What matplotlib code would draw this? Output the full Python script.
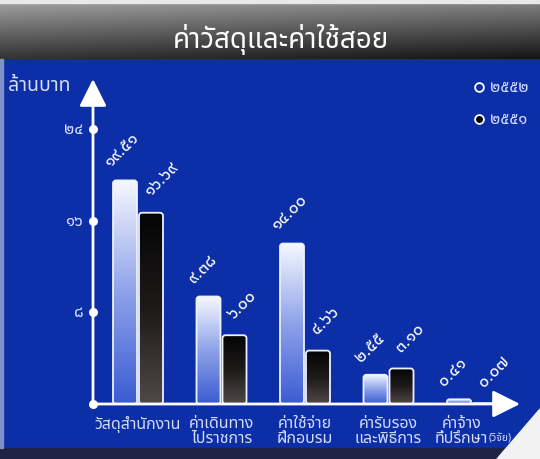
import matplotlib
matplotlib.use("Agg")
import matplotlib.pyplot as plt
from matplotlib.colors import LinearSegmentedColormap
from matplotlib.patches import FancyBboxPatch, Polygon, FancyArrowPatch
import numpy as np

TITLE = "ค่าวัสดุและค่าใช้สอย"
UNIT = "ล้านบาท"
CATEGORIES = ["วัสดุสำนักงาน", "ค่าเดินทาง\nไปราชการ", "ค่าใช้จ่าย\nฝึกอบรม",
              "ค่ารับรอง\nและพิธีการ", "ค่าจ้าง\nที่ปรึกษา"]
LAST_NOTE = "(วิจัย)"
YEARS = ["2552", "2551"]
VAL_2552 = [19.51, 9.38, 14.00, 2.55, 0.41]
VAL_2551 = [16.69, 6.00, 4.66, 3.10, 0.07]
YTICKS = [8, 16, 24]

FONT = ["Noto Sans Thai", "DejaVu Sans"]
BLUE = "#0c2ea6"
TXT = "#d4dcff"

THAI_DIGITS = str.maketrans("0123456789", "๐๑๒๓๔๕๖๗๘๙")


def thai(s):
    return str(s).translate(THAI_DIGITS)


light_cmap = LinearSegmentedColormap.from_list(
    "light", [(0, "#3c5cd2"), (0.5, "#8ea2ea"), (1, "#f6f8ff")])
dark_cmap = LinearSegmentedColormap.from_list(
    "dark", [(0, "#504848"), (0.5, "#1e1a1a"), (1, "#050505")])

W, H = 540, 460
fig = plt.figure(figsize=(W / 100, H / 100), dpi=100)
fig.patch.set_facecolor(BLUE)

# background decorations in pixel coords
bg = fig.add_axes([0, 0, 1, 1], zorder=0)
bg.set_xlim(0, W)
bg.set_ylim(H, 0)
bg.axis("off")
gy = np.linspace(0, 1, 60).reshape(-1, 1)
gx = np.linspace(0, 1, 540).reshape(1, -1)
shade = 0.62 - 0.42 * gy - 0.12 * gx
banner = np.dstack([shade, shade, shade])
bg.imshow(banner, extent=(0, W, 60, 4), aspect="auto", zorder=1)
bg.add_patch(plt.Rectangle((0, 0), W, 4, color="#e8e8e8", zorder=1))
bg.add_patch(plt.Rectangle((0, 449), W, 11, color="#1f2446", zorder=1))
bg.add_patch(Polygon([(497, 460), (540, 410), (540, 460)], closed=True,
                     color="#f2f2f2", zorder=2))
bg.add_patch(plt.Rectangle((0, 60), 3, 389, color="#8090c8", zorder=1))

fig.text(281 / W, 1 - 40 / H, TITLE, ha="center", va="center",
         color="white", fontsize=20, family=FONT)
fig.text(8 / W, 1 - 86 / H, UNIT, ha="left", va="center",
         color=TXT, fontsize=14, family=FONT)

# legend
bg.scatter([479], [88], s=40, facecolor=BLUE, edgecolor="white", lw=1.3, zorder=3)
bg.scatter([479], [120], s=40, facecolor="black", edgecolor="white", lw=1.3, zorder=3)
fig.text(490 / W, 1 - 88 / H, thai(YEARS[0]), ha="left", va="center",
         color=TXT, fontsize=12, fontweight="bold", family=FONT)
fig.text(490 / W, 1 - 120 / H, thai(YEARS[1]), ha="left", va="center",
         color=TXT, fontsize=12, fontweight="bold", family=FONT)

# main chart
ax = fig.add_axes([93 / W, 55 / H, 427 / W, 325 / H], zorder=2)
ax.patch.set_alpha(0)
ax.axis("off")
step = 83.5
x0 = -45 / step
ax.set_xlim(x0, x0 + 427 / step)
ax.set_ylim(0, 325 / 11.46)
xl = ax.get_xlim()
yl = ax.get_ylim()

bw = 24 / step
off = 13 / step
aspect = (1 / 11.46) / (1 / step)
x = np.arange(len(CATEGORIES))
grad = np.linspace(0, 1, 100).reshape(-1, 1)


def draw_bar(xc, h, cmap, label, dx, dy):
    left = xc - bw / 2
    rs = min(3 / step, h / aspect / 2)
    patch = FancyBboxPatch((left, 0), bw, h,
                           boxstyle="round,pad=0,rounding_size=%f" % rs,
                           mutation_aspect=aspect, facecolor="none",
                           edgecolor="#eef1ff", lw=1.3, zorder=4)
    ax.add_patch(patch)
    im = ax.imshow(grad, extent=(left, left + bw, 0, h), origin="lower",
                   cmap=cmap, aspect="auto", zorder=3)
    im.set_clip_path(patch)
    ax.text(left + dx, h + dy, thai("%.2f" % label), rotation=45,
            rotation_mode="anchor", ha="left", va="bottom",
            color="white", fontsize=12.5, fontweight="bold", family=FONT,
            zorder=5)


for i in range(len(CATEGORIES)):
    draw_bar(x[i] - off, VAL_2552[i], light_cmap, VAL_2552[i], 0.0, 0.9)
    draw_bar(x[i] + off, VAL_2551[i], dark_cmap, VAL_2551[i], 0.17, 1.2)
    shift = -0.13 if i == len(CATEGORIES) - 1 else 0
    lab = ax.text(x[i] + shift, -0.95, CATEGORIES[i], ha="center", va="top",
                  color=TXT, fontsize=11.5, family=FONT, linespacing=0.95)

ax.annotate(LAST_NOTE, xy=(1, 0), xycoords=lab, xytext=(0.5, 2),
            textcoords="offset points", ha="left", va="bottom",
            color=TXT, fontsize=7.5, family=FONT)

ax.set_xlim(xl)
ax.set_ylim(yl)

# axes with arrows
ax.add_patch(FancyArrowPatch((0, 0), (0, 1), transform=ax.transAxes,
                             arrowstyle="-|>,head_length=1.2,head_width=0.6",
                             mutation_scale=14, color="white", lw=2,
                             shrinkA=0, shrinkB=0, clip_on=False, zorder=6))
ax.add_patch(FancyArrowPatch((0, 0), (1, 0), transform=ax.transAxes,
                             arrowstyle="-|>,head_length=1.2,head_width=0.6",
                             mutation_scale=14, color="white", lw=2,
                             shrinkA=0, shrinkB=0, clip_on=False, zorder=6))
ax.scatter([xl[0]] * (len(YTICKS) + 1), [0] + YTICKS, s=30, color="white",
           clip_on=False, zorder=7)
for t in YTICKS:
    ax.annotate(thai(t), (xl[0], t), xytext=(-7, 0), textcoords="offset points",
                ha="right", va="center", color=TXT, fontsize=12,
                fontweight="bold", family=FONT)

fig.savefig("out.png", dpi=100, facecolor=fig.get_facecolor())
